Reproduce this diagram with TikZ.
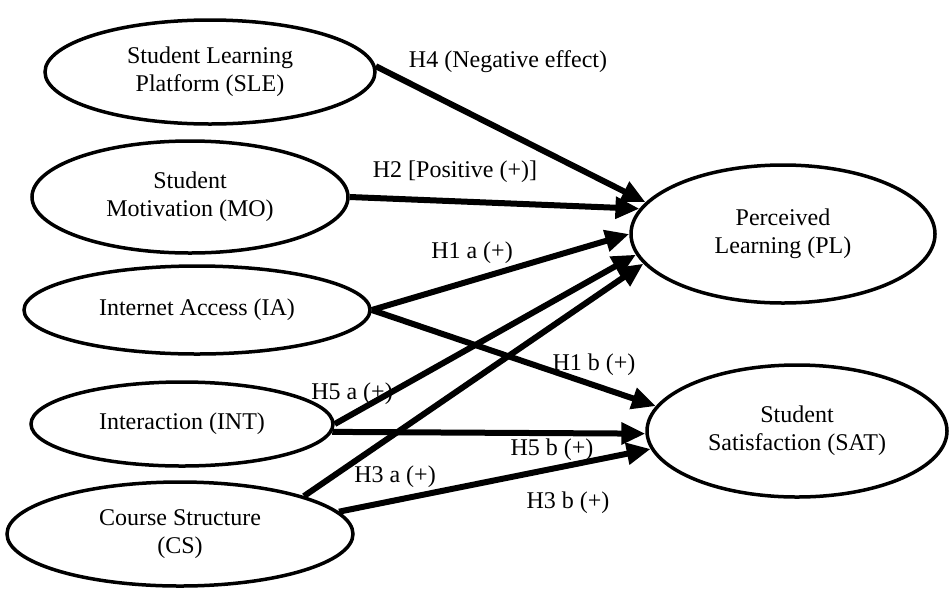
\documentclass[tikz,border=0pt]{standalone}
\usepackage{fontspec}
\setmainfont{Liberation Serif}
\usetikzlibrary{shapes.geometric,arrows.meta}
\begin{document}
\begin{tikzpicture}[x=1pt,y=-1pt,
  ell/.style={ellipse,draw,line width=3.5pt,inner sep=0pt,align=center,
    font=\fontsize{24}{28}\selectfont},
  conn/.style={line width=6pt,-{Triangle[length=24pt,width=21pt]}},
  lab/.style={font=\fontsize{24}{28}\selectfont,inner sep=0pt}]
\useasboundingbox (0,0) rectangle (949,590);
% constructs
\node[ell,minimum width=330pt,minimum height=104pt] (SLE) at (210,72) {Student Learning\\Platform (SLE)};
\node[ell,minimum width=316pt,minimum height=112pt] (MO) at (190,197) {Student\\Motivation (MO)};
\node[ell,minimum width=346pt,minimum height=88pt] (IA) at (197,310) {Internet Access (IA)};
\node[ell,minimum width=302pt,minimum height=84pt] (INT) at (182,424) {Interaction (INT)};
\node[ell,minimum width=346pt,minimum height=104pt] (CS) at (180,534) {Course Structure\\(CS)};
\node[ell,minimum width=304pt,minimum height=138pt] (PL) at (783,234) {Perceived\\Learning (PL)};
\node[ell,minimum width=300pt,minimum height=132pt] (SAT) at (797,431) {Student\\Satisfaction (SAT)};
% paths
\draw[conn] (SLE.2) -- (PL.167);
\draw[conn] (MO.east) -- (PL.170);
\draw[conn] (IA.east) -- (PL.180);
\draw[conn] (IA.east) -- (SAT.170);
\draw[conn] (INT.east) -- (PL.188);
\draw[conn] (INT.-3.5) -- (SAT.181);
\draw[conn] (CS.17) -- (PL.192);
\draw[conn] (CS.8) -- (SAT.187);
% labels
\node[lab] (l4) at (508,62) {H4 (Negative effect)};
\node[lab] (l2) at (455,172) {H2 [Positive (+)]};
\node[lab] (l1a) at (472,253) {H1 a (+)};
\node[lab] (l1b) at (594,365) {H1 b (+)};
\node[lab] (l5a) at (352,394) {H5 a (+)};
\node[lab] (l5b) at (552,450) {H5 b (+)};
\node[lab] (l3a) at (395,477) {H3 a (+)};
\node[lab] (l3b) at (568,503) {H3 b (+)};
\end{tikzpicture}
\end{document}
